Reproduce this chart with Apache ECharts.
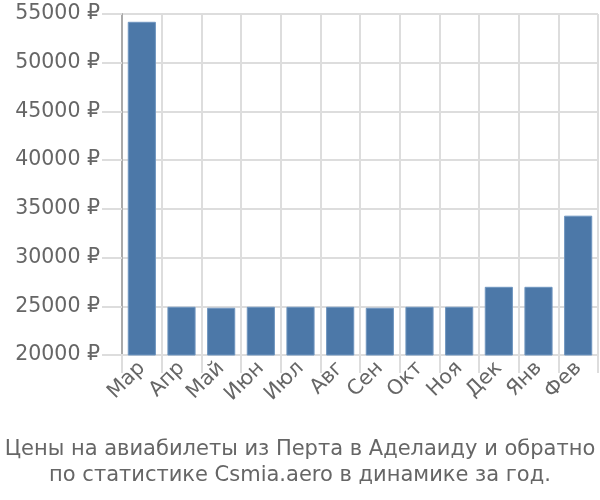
<!DOCTYPE html>
<html><head><meta charset="utf-8">
<script src="https://cdn.jsdelivr.net/npm/echarts@6/dist/echarts.min.js"></script>
<style>html,body{margin:0;padding:0;background:#fff}#c{width:600px;height:500px}</style>
</head><body><div id="c"></div>
<script>
const categories = ['Мар','Апр','Май','Июн','Июл','Авг','Сен','Окт','Ноя','Дек','Янв','Фев'];
const prices = [54200, 24950, 24850, 24950, 24950, 24950, 24850, 24950, 24950, 27000, 27000, 34300];
const titleLines = ['Цены на авиабилеты из Перта в Аделаиду и обратно', 'по статистике Csmia.aero в динамике за год.'];
const yMin = 20000, yMax = 55000, yStep = 5000;

const chart = echarts.init(document.getElementById('c'), null, {renderer: 'canvas'});
const font = 'DejaVu Sans';
chart.setOption({
  animation: false,
  title: {
    text: titleLines.join('\n'),
    left: 'center', top: 432,
    textStyle: {fontFamily: font, fontSize: 21, fontWeight: 'normal', color: '#666', lineHeight: 26}
  },
  grid: {left: 122, right: 2, top: 14, bottom: 145, containLabel: false},
  xAxis: {
    type: 'category', data: categories,
    axisLine: {show: true, lineStyle: {color: '#ddd', width: 2}},
    axisTick: {show: true, length: 18, lineStyle: {color: '#ddd', width: 2}},
    splitLine: {show: true, lineStyle: {color: '#ddd', width: 2}},
    axisLabel: {rotate: 45, margin: 10, fontFamily: font, fontSize: 20.5, color: '#666', interval: 0}
  },
  yAxis: {
    type: 'value', min: yMin, max: yMax, interval: yStep,
    axisLine: {show: true, lineStyle: {color: '#aaa', width: 2}},
    axisTick: {show: true, length: 20, lineStyle: {color: '#ddd', width: 2}},
    splitLine: {show: true, lineStyle: {color: '#ddd', width: 2}},
    axisLabel: {margin: 22, fontFamily: font, fontSize: 20.5, color: '#666', formatter: v => v + ' ₽'}
  },
  series: [{
    type: 'bar', data: prices, barWidth: '71%',
    itemStyle: {color: '#4c78a8', borderColor: '#7096c0', borderWidth: 1}
  }]
});
</script></body></html>
